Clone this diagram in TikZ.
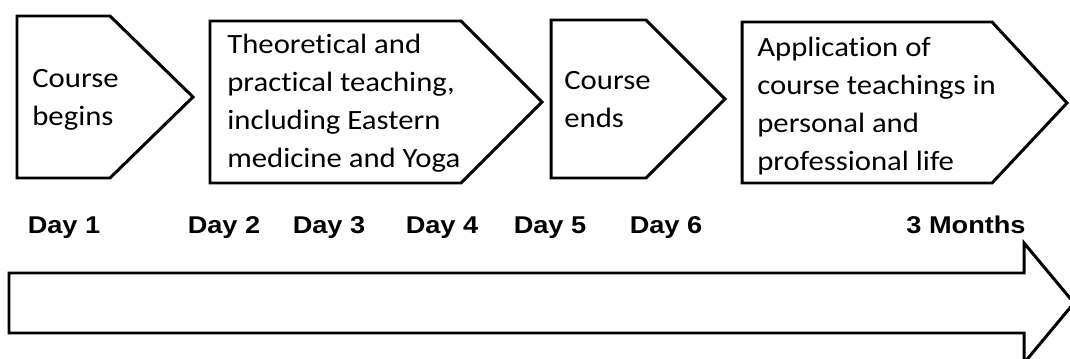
\documentclass[tikz,border=0pt]{standalone}
\usepackage{fontspec}
\newfontfamily\stagefont[FakeStretch=1.1, Ligatures=NoCommon]{Carlito}
\newfontfamily\dayfont[FakeStretch=1.12]{Liberation Sans}
\usetikzlibrary{positioning}

\begin{document}
\begin{tikzpicture}[
    x=0.02cm, y=-0.02cm,
    stage/.style={
        draw, line width=1.7pt, line join=miter
    },
    stagetext/.style={
        anchor=base west, inner sep=0pt, align=left,
        font=\stagefont\fontsize{15.9pt}{21.5pt}\selectfont
    },
    day/.style={
        anchor=base, inner sep=0pt,
        font=\dayfont\bfseries\fontsize{13.8pt}{16pt}\selectfont
    }
]
\clip (0,0) rectangle (1070,358);

% stage outlines
\draw[stage] (17,16) -- (110,16) -- (193,97) -- (110,178) -- (17,178) -- cycle;
\draw[stage] (210,21) -- (461,21) -- (542,102) -- (461,183) -- (210,183) -- cycle;
\draw[stage] (551,20) -- (646,20) -- (725,99) -- (646,178) -- (551,178) -- cycle;
\draw[stage] (742,22) -- (992,22) -- (1067,103) -- (992,183) -- (742,183) -- cycle;

% base anchor = baseline of the last line
\node[stagetext] (begins) at (32,125) {Course\\begins};
\node[stagetext] (teaching) at (227,167) {Theoretical and\\practical teaching,\\including Eastern\\medicine and Yoga};
\node[stagetext] (ends) at (564,127) {Course\\ends};
\node[stagetext] (apply) at (757,170) {Application of\\course teachings in\\personal and\\professional life};

% time line
\node[day] (d1) at (64,233) {Day 1};
\node[day] (d2) at (224,233) {Day 2};
\node[day] (d3) at (329,233) {Day 3};
\node[day] (d4) at (442,233) {Day 4};
\node[day] (d5) at (550,233) {Day 5};
\node[day] (d6) at (666,233) {Day 6};
\node[day] (m3) at (966,233) {3 Months};

\draw[stage] (9,273) -- (1024,273) -- (1024,243) -- (1074,303)
    -- (1024,363) -- (1024,333) -- (9,333) -- cycle;

\end{tikzpicture}
\end{document}
